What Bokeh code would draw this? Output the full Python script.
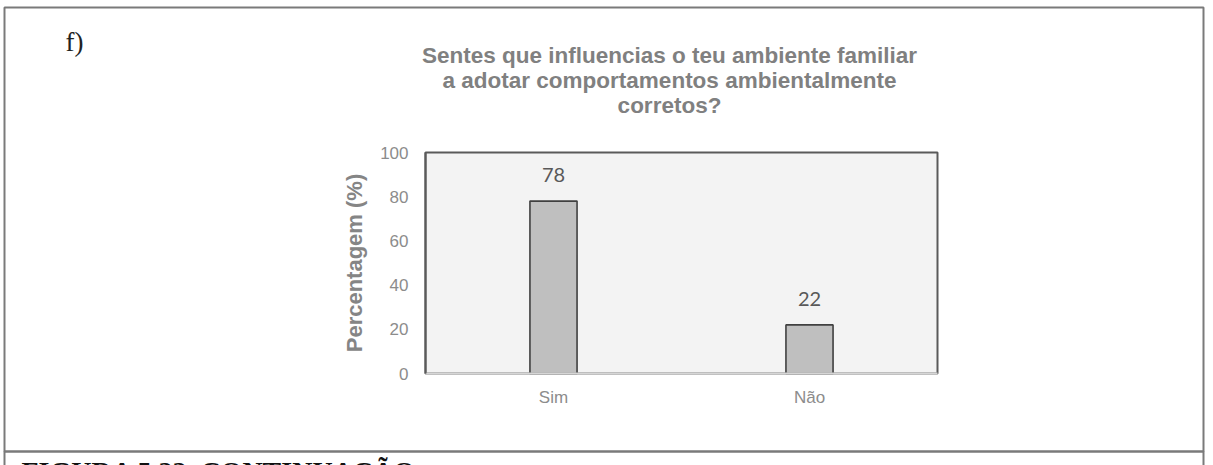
from bokeh.plotting import figure
from bokeh.models import (Range1d, FixedTicker, LinearAxis, Label, LabelSet,
                          BoxAnnotation, ColumnDataSource)
from bokeh.core.properties import value
from bokeh.embed import file_html
from bokeh.resources import INLINE

# ---- data ----
categories = ["Sim", "Não"]
values = [78, 22]
y_ticks = [0, 20, 40, 60, 80, 100]
title_lines = ["Sentes que influencias o teu ambiente familiar",
               "a adotar comportamentos ambientalmente",
               "corretos?"]
y_label = "Percentagem (%)"
panel_tag = "f)"
caption = "FIGURA 5.22. CONTINUAÇÃO"

W, H = 1213, 465
FL, FR, FT, FB = 425, 937, 152, 373   # chart plot-area edges in pixels
n = len(categories)
xpos = [i + 0.5 for i in range(n)]
YMAX = 100

# helpers: pixel -> data
def dx(px):
    return (px - FL) / (FR - FL) * n

def dy(py):
    return (FB - py) / (FB - FT) * YMAX

p = figure(width=W, height=H,
           x_range=Range1d(dx(0), dx(W)), y_range=Range1d(dy(H), dy(0)),
           output_backend="svg", toolbar_location=None, title_location=None,
           x_axis_location=None, y_axis_location=None,
           min_border=0, min_border_left=0, min_border_right=0,
           min_border_top=0, min_border_bottom=0)
p.background_fill_color = "white"
p.border_fill_color = "white"
p.outline_line_color = None
p.xgrid.visible = False
p.ygrid.visible = False

# plot area background + border (top/left/right dark)
p.add_layout(BoxAnnotation(left=0, right=n, bottom=0, top=YMAX,
                           fill_color="#f3f3f3", fill_alpha=1,
                           line_color="#5a5a5a", line_alpha=1, line_width=2,
                           level="underlay"))

# y axis
ya = LinearAxis(fixed_location=0, bounds=(0, YMAX))
ya.ticker = FixedTicker(ticks=y_ticks)
ya.major_tick_line_color = None
ya.minor_tick_line_color = None
ya.major_tick_out = 0
ya.major_tick_in = 0
ya.axis_line_color = "#5a5a5a"
ya.axis_line_width = 2
ya.major_label_text_font = "Liberation Sans"
ya.major_label_text_font_size = "17px"
ya.major_label_text_color = "#8c8c8c"
ya.major_label_standoff = 17
ya.axis_label = y_label
ya.axis_label_text_font = "Liberation Sans"
ya.axis_label_text_font_style = "bold"
ya.axis_label_text_font_size = "22px"
ya.axis_label_text_color = "#858585"
ya.axis_label_standoff = 10
p.add_layout(ya, "left")

# x axis
xa = LinearAxis(fixed_location=0, bounds=(0, n))
xa.ticker = FixedTicker(ticks=xpos)
xa.major_label_overrides = {x: c for x, c in zip(xpos, categories)}
xa.major_tick_line_color = None
xa.minor_tick_line_color = None
xa.major_tick_out = 0
xa.major_tick_in = 0
xa.axis_line_color = "#d6d6d6"
xa.axis_line_width = 2
xa.major_label_text_font = "Liberation Sans"
xa.major_label_text_font_size = "17px"
xa.major_label_text_color = "#8c8c8c"
xa.major_label_standoff = 14
p.add_layout(xa, "below")

# bars
src = ColumnDataSource(dict(x=xpos, top=values, label=[str(v) for v in values]))
p.vbar(x="x", top="top", bottom=0, width=0.184, source=src,
       fill_color="#bfbfbf", line_color="#404040", line_width=1.6)

p.add_layout(LabelSet(x="x", y="top", text="label", source=src,
                      y_offset=26, text_align="center", text_baseline="middle",
                      text_font=value("Lato"), text_font_size=value("20px"),
                      text_color=value("#595959")))

# title
for i, line in enumerate(title_lines):
    p.add_layout(Label(x=dx(669), y=dy(55 + 25 * i), text=line,
                       text_align="center", text_baseline="alphabetic",
                       text_font="Liberation Sans", text_font_style="bold",
                       text_font_size="22.5px", text_color="#808080"))

# panel tag
p.add_layout(Label(x=dx(65), y=dy(41), text=panel_tag, text_align="left",
                   text_baseline="alphabetic", text_font="Liberation Serif",
                   text_font_size="27px", text_color="#222222"))

# caption (cut at the bottom, as in the source page)
p.add_layout(Label(x=dx(21), y=dy(471), text=caption, text_align="left",
                   text_baseline="alphabetic", text_font="Liberation Serif",
                   text_font_style="bold", text_font_size="28px",
                   text_color="#111111"))

# outer page frame
p.add_layout(BoxAnnotation(left=dx(4), right=dx(1203), top=dy(7), bottom=dy(451),
                           fill_alpha=0, line_color="#7a7a7a", line_alpha=1,
                           line_width=2))
p.add_layout(BoxAnnotation(left=dx(4), right=dx(1203), top=dy(451), bottom=dy(520),
                           fill_alpha=0, line_color="#7a7a7a", line_alpha=1,
                           line_width=2))

open("out.html", "w").write(file_html(p, INLINE))
